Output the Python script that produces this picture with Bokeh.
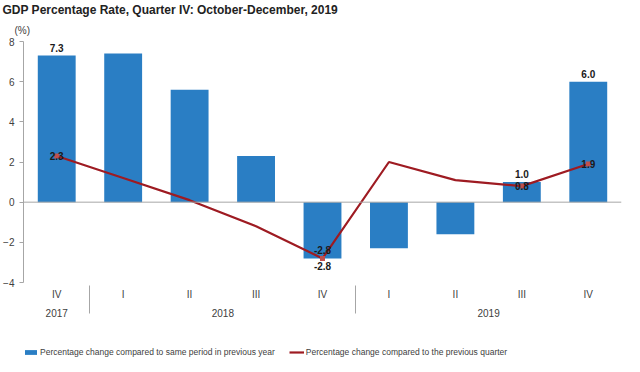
from bokeh.plotting import figure
from bokeh.layouts import column
from bokeh.models import (FactorRange, Range1d, ColumnDataSource, Span, Legend, LegendItem,
                          Title, FixedTicker)
from bokeh.core.properties import value
from bokeh.embed import file_html
from bokeh.resources import INLINE

years = ["2017", "2018", "2018", "2018", "2018", "2019", "2019", "2019", "2019"]
quarters = ["IV", "I", "II", "III", "IV", "I", "II", "III", "IV"]
yoy = [7.3, 7.4, 5.6, 2.3, -2.8, -2.3, -1.6, 1.0, 6.0]
qoq = [2.3, 1.2, 0.1, -1.2, -2.8, 2.0, 1.1, 0.8, 1.9]
labeled = [0, 4, 7, 8]  # points that carry value labels
y_ticks = [-4, -2, 0, 2, 4, 6, 8]
series_names = ["Percentage change compared to same period in previous year",
                "Percentage change compared to the previous quarter"]

FONT = "Liberation Sans"
BAR = "#2a7ec4"
LINE = "#9e1b22"

factors = list(zip(years, quarters))
xr = FactorRange(*factors, factor_padding=0, group_padding=0, subgroup_padding=0, range_padding=0)

p = figure(frame_width=598, frame_height=241, x_range=xr, y_range=Range1d(-4, 8),
           output_backend="svg", toolbar_location=None,
           min_border_left=19, min_border_right=8, min_border_top=0, min_border_bottom=0)
p.outline_line_color = None
p.xgrid.grid_line_color = None
p.ygrid.grid_line_color = None

p.title.text = "GDP Percentage Rate, Quarter IV: October-December, 2019"
p.title.text_font = FONT
p.title.text_font_size = "12px"
p.title.text_font_style = "bold"
p.title.text_color = "#222222"
p.title.text_line_height = 1.0
p.title.standoff = 0
p.title.offset = -21
p.add_layout(Title(text="(%)", text_font=FONT, text_font_size="10px", text_font_style="normal",
                   text_color="#404040", text_line_height=1.0, standoff=12, offset=-9), "above")

src = ColumnDataSource(dict(x=factors, yoy=yoy, qoq=qoq))
lab = ColumnDataSource(dict(x=[factors[i] for i in labeled], qoq=[qoq[i] for i in labeled]))

p.vbar(x="x", top="yoy", bottom=0, width=0.57, source=src, fill_color=BAR, line_color=None)
p.add_layout(Span(location=0, dimension="width", line_color="#a6a6a6", line_width=1))
p.line(x="x", y="qoq", source=src, line_color=LINE, line_width=2.2)
p.scatter(x="x", y="qoq", source=lab, marker="square", size=5, fill_color="#c0504d", line_color=None)

def sub(vals, cond):
    idx = [i for i in labeled if cond(vals[i])]
    return ColumnDataSource(dict(x=[factors[i] for i in idx], y=[vals[i] for i in idx],
                                 t=[f"{vals[i]:.1f}" for i in idx]))

common = dict(text_font=value(FONT), text_font_size="10px", text_font_style="bold",
              text_color="#1a1a1a", text_align="center")
p.text(x="x", y="y", text="t", source=sub(yoy, lambda v: v >= 0), y_offset=-4, text_baseline="bottom", **common)
p.text(x="x", y="y", text="t", source=sub(yoy, lambda v: v < 0), y_offset=4, text_baseline="top", **common)
p.text(x="x", y="y", text="t", source=sub(qoq, lambda v: v >= 0), text_baseline="middle", **common)
p.text(x="x", y="y", text="t", source=sub(qoq, lambda v: v < 0), y_offset=-4, text_baseline="bottom", **common)

ya = p.yaxis[0]
ya.ticker = FixedTicker(ticks=y_ticks)
ya.axis_line_color = "#a6a6a6"
ya.major_tick_line_color = "#a6a6a6"
ya.major_tick_in = 0
ya.major_tick_out = 4
ya.minor_tick_line_color = None
ya.major_label_text_font = FONT
ya.major_label_text_font_size = "10px"
ya.major_label_text_color = "#404040"
ya.major_label_standoff = 5

xa = p.xaxis[0]
xa.axis_line_color = None
xa.major_tick_line_color = None
xa.major_tick_out = 0
xa.major_tick_in = 0
xa.minor_tick_line_color = None
xa.major_label_text_font = FONT
xa.major_label_text_font_size = "10px"
xa.major_label_text_color = "#404040"
xa.major_label_standoff = 6
xa.group_text_font = FONT
xa.group_text_font_size = "10px"
xa.group_text_font_style = "normal"
xa.group_text_color = "#404040"
xa.separator_line_color = "#a6a6a6"
xa.separator_line_width = 1

# legend strip below the chart (series drawn out of view; only their legend swatches show)
lg = figure(width=625, height=38, x_range=xr, y_range=Range1d(100, 101),
            output_backend="svg", toolbar_location=None,
            x_axis_location=None, y_axis_location=None,
            min_border_left=0, min_border_right=0, min_border_top=0, min_border_bottom=0)
lg.outline_line_color = None
lg.xgrid.grid_line_color = None
lg.ygrid.grid_line_color = None
r_bar = lg.vbar(x="x", top="yoy", bottom=0, width=0.57, source=src, fill_color=BAR, line_color=None)
r_line = lg.line(x="x", y="qoq", source=src, line_color=LINE, line_width=2.2)
legend = Legend(items=[LegendItem(label=series_names[0], renderers=[r_bar]),
                       LegendItem(label=series_names[1], renderers=[r_line])],
                orientation="horizontal", location=(0, 0), border_line_color=None,
                background_fill_alpha=0, label_text_font=FONT, label_text_font_size="8.5px",
                label_text_color="#404040", glyph_width=15, glyph_height=6, spacing=14,
                label_standoff=2, margin=0, padding=4)
lg.add_layout(legend, "center")

layout = column(p, lg, spacing=0)
open("out.html", "w").write(file_html(layout, INLINE))
